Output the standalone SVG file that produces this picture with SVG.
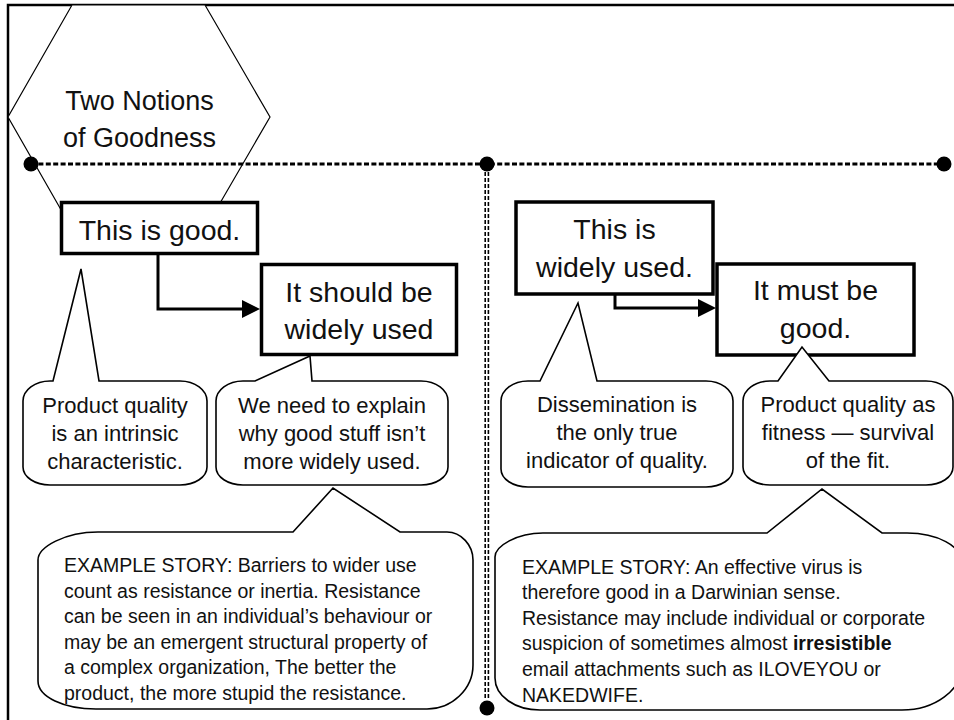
<svg xmlns="http://www.w3.org/2000/svg" width="954" height="720" viewBox="0 0 954 720">
<style>
.t{font-family:"Liberation Sans",Arial,sans-serif;fill:#111}
.big{font-size:28.5px;text-anchor:middle}
.hex{font-size:27px;text-anchor:middle}
.sm{font-size:22px;text-anchor:middle}
.st{font-size:19.5px}
.box{fill:#fff;stroke:#000;stroke-width:3.5}
.bub{fill:#fff;stroke:#000;stroke-width:1.6;stroke-linejoin:miter}
.conn{fill:none;stroke:#000;stroke-width:3}
.vdash{stroke:#000;stroke-width:1.6;stroke-dasharray:4 2}
.dot{fill:#000}
</style>
<defs>
<marker id="arr" markerWidth="18" markerHeight="18" refX="0" refY="9" orient="auto" markerUnits="userSpaceOnUse"><path d="M0,0 L18,9 L0,18 z" fill="#000"/></marker>
</defs>
<rect width="954" height="720" fill="#fff"/>
<g id="frame" fill="none" stroke="#000" stroke-width="2.5">
<path d="M8,720 V5 H954"/>
</g>
<g id="title">
<polygon points="72,5 205,5 270,117 205,229 72,229 8,117" fill="#fff" stroke="#000" stroke-width="1.2"/>
<text class="t hex" x="139.5" y="110">Two Notions</text>
<text class="t hex" x="139.5" y="147">of Goodness</text>
</g>
<g id="dividers">
<line x1="31" y1="164" x2="944" y2="164" stroke="#000" stroke-width="3" stroke-dasharray="5 2.4"/>
<line class="vdash" x1="485.2" y1="172" x2="485.2" y2="700"/>
<line class="vdash" x1="488.4" y1="172" x2="488.4" y2="700"/>
<circle class="dot" cx="31" cy="164" r="7.5"/>
<circle class="dot" cx="487" cy="164" r="7.5"/>
<circle class="dot" cx="944" cy="164" r="7.5"/>
<circle class="dot" cx="487" cy="708" r="7.5"/>
</g>
<g id="box-good">
<rect class="box" x="61.5" y="202.5" width="196" height="51"/>
<text class="t big" x="159.5" y="240">This is good.</text>
</g>
<g id="box-should">
<rect class="box" x="261.5" y="264.5" width="195" height="90"/>
<text class="t big" x="359" y="302">It should be</text>
<text class="t big" x="359" y="339">widely used</text>
</g>
<g id="box-used">
<rect class="box" x="516" y="202" width="197" height="92"/>
<text class="t big" x="614.5" y="239">This is</text>
<text class="t big" x="614.5" y="277">widely used.</text>
</g>
<g id="box-must">
<rect class="box" x="717" y="264" width="197" height="91"/>
<text class="t big" x="815.5" y="300">It must be</text>
<text class="t big" x="815.5" y="338">good.</text>
</g>
<g id="connectors">
<path class="conn" d="M158,254 V309 H242" marker-end="url(#arr)"/>
<path class="conn" d="M615,294 V308 H698" marker-end="url(#arr)"/>
</g>
<g id="bubble-intrinsic">
<path class="bub" d="M23,401 C23,390 35,381 50,381 L53,381 L81,269 L99,381 L180,381 C195,381 207,390 207,401 L207,467 C207,477 195,485 180,485 L50,485 C35,485 23,477 23,467 Z"/>
<text class="t sm" x="115" y="413">Product quality</text>
<text class="t sm" x="115" y="441">is an intrinsic</text>
<text class="t sm" x="115" y="469">characteristic.</text>
</g>
<g id="bubble-explain">
<path class="bub" d="M216,401 C216,390 228,381 243,381 L255,381 L310,356 L312,381 L421,381 C436,381 448,390 448,401 L448,467 C448,477 436,485 421,485 L243,485 C228,485 216,477 216,467 Z"/>
<text class="t sm" x="332" y="413">We need to explain</text>
<text class="t sm" x="332" y="441">why good stuff isn’t</text>
<text class="t sm" x="332" y="469">more widely used.</text>
</g>
<g id="bubble-dissemination">
<path class="bub" d="M501,401 C501,390 513,381 528,381 L540,381 L578,303 L597,381 L706,381 C721,381 733,390 733,401 L733,469 C733,479 721,487 706,487 L528,487 C513,487 501,479 501,469 Z"/>
<text class="t sm" x="617" y="412">Dissemination is</text>
<text class="t sm" x="617" y="440">the only true</text>
<text class="t sm" x="617" y="468">indicator of quality.</text>
</g>
<g id="bubble-fitness">
<path class="bub" d="M743,401 C743,390 755,381 770,381 L778,381 L802,347 L829,381 L926,381 C941,381 953,390 953,401 L953,467 C953,477 941,485 926,485 L770,485 C755,485 743,477 743,467 Z"/>
<text class="t sm" x="848" y="412">Product quality as</text>
<text class="t sm" x="848" y="440">fitness — survival</text>
<text class="t sm" x="848" y="468">of the fit.</text>
</g>
<g id="story-left">
<path class="bub" d="M38,560 C38,547 65,532 98,532 L293,532 L333,488 L400,532 L447,532 C461,532 473,545 473,560 L473,665 C473,689 452,709 427,709 L96,709 C64,709 38,697 38,681 Z"/>
<text class="t st" x="64" y="572">EXAMPLE STORY: Barriers to wider use</text>
<text class="t st" x="64" y="597.6">count as resistance or inertia. Resistance</text>
<text class="t st" x="64" y="623.2">can be seen in an individual’s behaviour or</text>
<text class="t st" x="64" y="648.8">may be an emergent structural property of</text>
<text class="t st" x="64" y="674.4">a complex organization, The better the</text>
<text class="t st" x="64" y="700">product, the more stupid the resistance.</text>
</g>
<g id="story-right">
<path class="bub" d="M495,557 C495,546 517,533 543,533 L767,533 L822,489 L882,533 L907,533 C937,533 962,546 962,563 L962,665 C962,690 935,710 902,710 L540,710 C515,710 495,696 495,678 Z"/>
<text class="t st" x="522" y="573.5">EXAMPLE STORY: An effective virus is</text>
<text class="t st" x="522" y="599.1">therefore good in a Darwinian sense.</text>
<text class="t st" x="522" y="624.7">Resistance may include individual or corporate</text>
<text class="t st" x="522" y="650.3">suspicion of sometimes almost <tspan font-weight="bold">irresistible</tspan></text>
<text class="t st" x="522" y="675.9">email attachments such as ILOVEYOU or</text>
<text class="t st" x="522" y="701.5">NAKEDWIFE.</text>
</g>
</svg>
